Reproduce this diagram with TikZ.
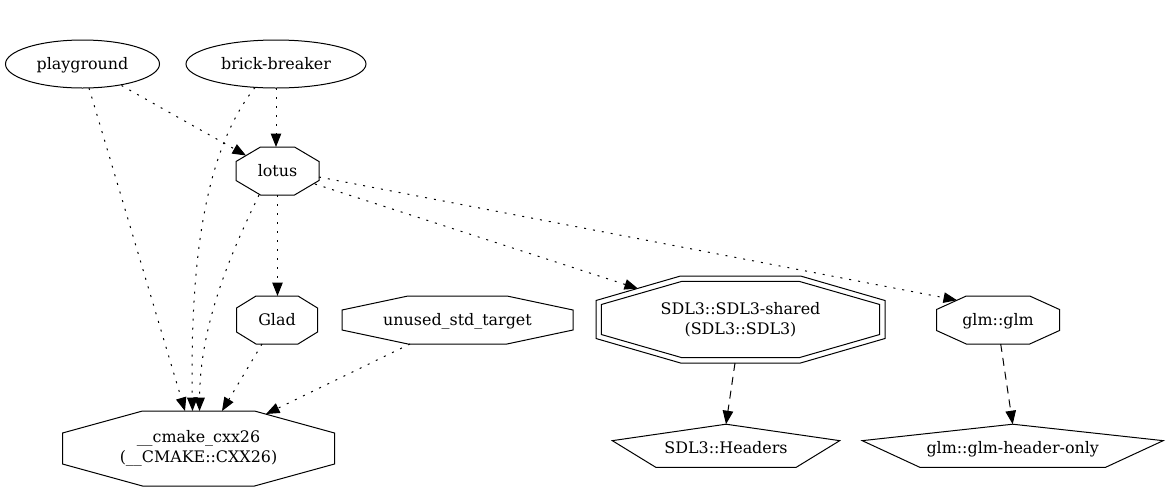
\documentclass[tikz,border=0pt]{standalone}
\usepackage{fontspec}
\setmainfont{DejaVu Serif}
\usetikzlibrary{arrows.meta,shapes.geometric}
\newcommand\octoshape[5]{\draw[shp,shift={(#1)}] (-#4,-#3) -- (#4,-#3) -- (#2,-#5) -- (#2,#5) -- (#4,#3) -- (-#4,#3) -- (-#2,#5) -- (-#2,-#5) -- cycle;}
\newcommand\pentashape[3]{\draw[shp,shift={(#1)}] (0,-23.8) -- (#2,-7.35) -- (#3,19.25) -- (-#3,19.25) -- (-#2,-7.35) -- cycle;}
\begin{document}
\begin{tikzpicture}[x=1pt,y=-1pt,
  lbl/.style={inner sep=0pt, align=center, font=\fontsize{15.9}{20}\selectfont},
  lbl1/.style={lbl, text height=12.5pt, text depth=2.5pt},
  shp/.style={draw=black, line width=1pt},
  ell/.style={ellipse, draw=black, line width=1pt, inner sep=0pt, minimum height=48pt},
  dep/.style={line width=1pt, dash pattern=on 2pt off 7pt, -{Triangle[length=13.5pt,width=10.5pt]}},
  dsh/.style={line width=1pt, dash pattern=on 8pt off 6pt, -{Triangle[length=13.5pt,width=10.5pt]}}
]
\useasboundingbox (0,0) rectangle (1169,491);

% nodes
\node[ell, lbl1, minimum width=154pt] (pg) at (82.5,64) {playground};
\node[ell, lbl1, minimum width=180pt] (bb) at (276,64) {brick-breaker};
\node[lbl1] (lotus) at (277.5,171) {lotus};
\node[lbl1] (glad) at (277,320) {Glad};
\node[lbl1] (unused) at (457.5,320) {unused\_std\_target};
\node[lbl] (cmake) at (198.5,448.5) {\_\_cmake\_cxx26\\(\_\_CMAKE::CXX26)};
\node[lbl] (sdl) at (740.5,319.5) {SDL3::SDL3-shared\\(SDL3::SDL3)};
\node[lbl1] (glm) at (998,320) {glm::glm};
\node[lbl1] (hdr) at (726,448) {SDL3::Headers};
\node[lbl1] (glmh) at (1012.7,448) {glm::glm-header-only};

% shapes
\octoshape{lotus}{41.5}{24}{17}{9.5}
\octoshape{glad}{40.5}{24}{21}{12}
\octoshape{unused}{115.5}{24}{49.5}{10}
\octoshape{cmake}{136}{37.5}{56}{15.5}
\octoshape{sdl}{144.5}{43.5}{60}{19}
\octoshape{sdl}{139.2}{38.2}{58.5}{15}
\octoshape{glm}{61.5}{24}{31.7}{10.5}
\pentashape{hdr}{113.7}{70.3}
\pentashape{glmh}{150.5}{93}

% edges
\draw[dep] ([shift={(6.5,24)}]pg.center) -- ([shift={(-13.5,-37.5)}]cmake.center);
\draw[dep] ([shift={(39,21.5)}]pg.center) -- ([shift={(-31.5,-15.5)}]lotus.center);
\draw[dep] ([shift={(-21,23.5)}]bb.center) .. controls (205,150) and (190,260) .. ([shift={(-6,-37.5)}]cmake.center);
\draw[dep] ([shift={(0,24)}]bb.center) -- ([shift={(-1.5,-24)}]lotus.center);
\draw[dep] ([shift={(-18.5,24)}]lotus.center) .. controls (235,245) and (200,320) .. ([shift={(1,-37.5)}]cmake.center);
\draw[dep] ([shift={(0,24)}]lotus.center) -- ([shift={(0.5,-24)}]glad.center);
\draw[dep] ([shift={(37.5,13)}]lotus.center) -- ([shift={(-102.5,-30.9)}]sdl.center);
\draw[dep] ([shift={(41.5,6)}]lotus.center) -- ([shift={(-41,-19.8)}]glm.center);
\draw[dep] ([shift={(-15,24)}]glad.center) -- ([shift={(23.5,-37.5)}]cmake.center);
\draw[dep] ([shift={(-47.5,24)}]unused.center) -- ([shift={(67.5,-34.5)}]cmake.center);
\draw[dsh] ([shift={(-5.5,43.5)}]sdl.center) -- ([shift={(0,-23.8)}]hdr.center);
\draw[dsh] ([shift={(2.7,24)}]glm.center) -- ([shift={(0,-23.8)}]glmh.center);
\end{tikzpicture}
\end{document}
